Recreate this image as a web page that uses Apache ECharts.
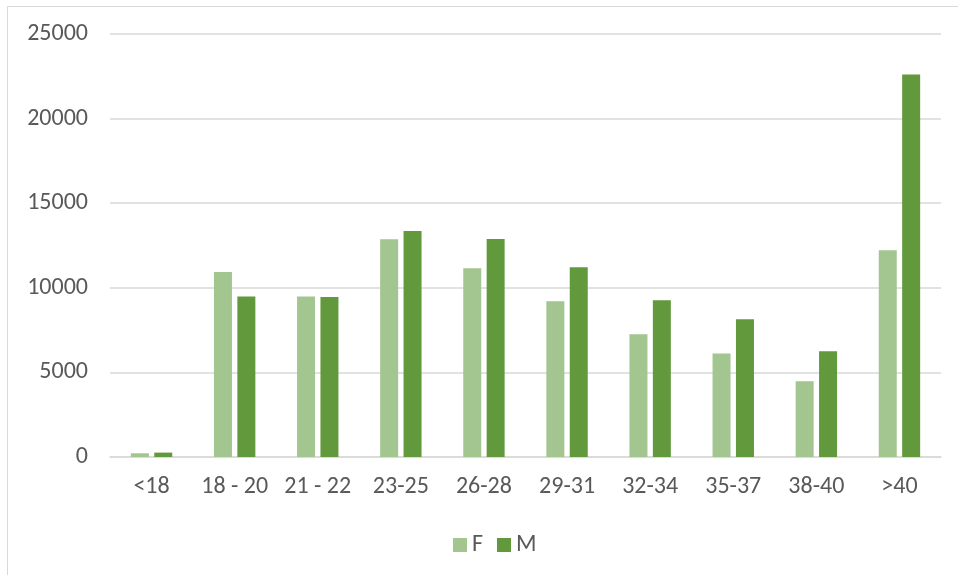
<!DOCTYPE html>
<html><head><meta charset="utf-8">
<script src="https://cdn.jsdelivr.net/npm/echarts@6/dist/echarts.min.js"></script>
<style>html,body{margin:0;padding:0;background:#fff}#c{width:958px;height:575px}</style>
</head><body><div id="c"></div>
<script>
const categories = ['<18','18 - 20','21 - 22','23-25','26-28','29-31','32-34','35-37','38-40','>40'];
const valuesF = [220, 10930, 9480, 12870, 11150, 9200, 7250, 6110, 4470, 12220];
const valuesM = [260, 9480, 9450, 13360, 12880, 11210, 9260, 8140, 6250, 22600];
const yTicks = { min: 0, max: 25000, interval: 5000 };

const font = "Carlito, 'Open Sans', 'Liberation Sans', sans-serif";
const chart = echarts.init(document.getElementById('c'), null, {renderer:'canvas'});
chart.setOption({
  animation: false,
  backgroundColor: '#ffffff',
  graphic: [{type:'rect', left:5, top:4, shape:{width:1000, height:620}, style:{fill:'none', stroke:'#d9d9d9', lineWidth:1}, z:-1}],
  grid: { left: 110, right: 17, top: 34, bottom: 118, containLabel: false },
  legend: {
    data: ['F','M'], top: 528, left: 448, itemWidth: 14, itemHeight: 14, itemGap: 14,
    icon: 'rect', textStyle: { color: '#595959', fontSize: 24, fontFamily: font }
  },
  xAxis: {
    type: 'category', data: categories,
    axisLine: { lineStyle: { color: '#d9d9d9', width: 1.5 } },
    axisTick: { show: false },
    axisLabel: { color: '#595959', fontSize: 24, fontFamily: font, margin: 18, interval: 0 }
  },
  yAxis: {
    type: 'value', min: yTicks.min, max: yTicks.max, interval: yTicks.interval,
    axisLine: { show: false }, axisTick: { show: false },
    splitLine: { lineStyle: { color: '#d9d9d9', width: 1.5 } },
    axisLabel: { color: '#595959', fontSize: 24, fontFamily: font, margin: 22, formatter: v => String(v) }
  },
  series: [
    { name: 'F', type: 'bar', data: valuesF, barWidth: 18, barGap: '30%', itemStyle: { color: '#a3c58f' } },
    { name: 'M', type: 'bar', data: valuesM, barWidth: 18, barGap: '30%', itemStyle: { color: '#63993d' } }
  ]
});
</script></body></html>
